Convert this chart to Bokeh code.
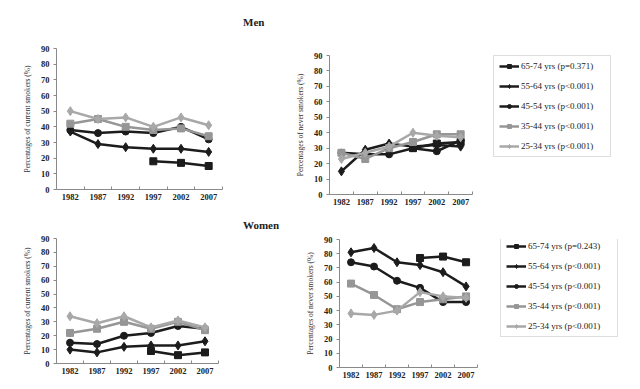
from bokeh.plotting import figure
from bokeh.models import Div, Legend, LegendItem, FixedTicker, Range1d
from bokeh.layouts import column, row
from bokeh.embed import file_html
from bokeh.resources import INLINE

# ---------------- data ----------------
years = [1982, 1987, 1992, 1997, 2002, 2007]
years_6574 = [1997, 2002, 2007]
y_ticks = [0, 10, 20, 30, 40, 50, 60, 70, 80, 90]

groups = ["65-74 yrs", "55-64 yrs", "45-54 yrs", "35-44 yrs", "25-34 yrs"]
men_pvalues = ["(p=0.371)", "(p<0.001)", "(p<0.001)", "(p<0.001)", "(p<0.001)"]
women_pvalues = ["(p=0.243)", "(p<0.001)", "(p<0.001)", "(p<0.001)", "(p<0.001)"]

men_current_6574 = [18, 17, 15]
men_current_5564 = [37, 29, 27, 26, 26, 24]
men_current_4554 = [38, 36, 37, 36, 40, 32]
men_current_3544 = [42, 45, 40, 38, 39, 34]
men_current_2534 = [50, 45, 46, 40, 46, 41]

men_never_6574 = [30, 33, 34]
men_never_5564 = [15, 29, 33, 31, 32, 31]
men_never_4554 = [27, 26, 26, 30, 28, 35]
men_never_3544 = [27, 23, 30, 34, 39, 39]
men_never_2534 = [23, 27, 31, 40, 38, 37]

women_current_6574 = [9, 6, 8]
women_current_5564 = [10, 8, 12, 13, 13, 16]
women_current_4554 = [15, 14, 20, 22, 27, 25]
women_current_3544 = [22, 25, 30, 25, 30, 24]
women_current_2534 = [34, 29, 34, 26, 31, 26]

women_never_6574 = [77, 78, 74]
women_never_5564 = [81, 84, 74, 72, 67, 57]
women_never_4554 = [74, 71, 61, 56, 46, 46]
women_never_3544 = [59, 51, 41, 46, 48, 50]
women_never_2534 = [38, 37, 40, 53, 50, 49]

# ---------------- styles ----------------
FONT = "Liberation Serif"
BLACK = "#1c1c1c"
GREY_SQ = "#969696"
GREY_DI = "#a8a8a8"
styles = [
    (BLACK, "square", 7),
    (BLACK, "diamond", 9),
    (BLACK, "circle", 7),
    (GREY_SQ, "square", 7),
    (GREY_DI, "diamond", 9),
]
X_START = 1979.5
X_END = 2009.5


def panel(width, height, borders, margin_left, ylabel, series,
          data_px=None, labels=None, legend_xy=None):
    l, r, t, b = borders
    frame_w = width - l - r
    x_end = X_END
    if data_px is not None:
        # frame is wider than the data area (room for the legend)
        x_end = X_START + frame_w * (X_END - X_START) / data_px
    p = figure(width=width, height=height,
               x_range=Range1d(X_START, x_end), y_range=Range1d(0, 90),
               output_backend="svg", toolbar_location=None,
               min_border_left=l, min_border_right=r,
               min_border_top=t, min_border_bottom=b,
               margin=(0, 0, 0, margin_left))
    p.frame_align = False
    p.outline_line_color = None
    p.grid.visible = False
    p.background_fill_color = "white"
    p.border_fill_color = "white"

    bounds = [yr - 2.5 for yr in years] + [years[-1] + 2.5]
    p.xaxis.ticker = FixedTicker(ticks=years, minor_ticks=bounds)
    p.xaxis.bounds = (X_START, X_END)
    p.xaxis.major_tick_in = 0
    p.xaxis.major_tick_out = 0
    p.xaxis.minor_tick_in = 3
    p.xaxis.minor_tick_out = 0
    p.xaxis.major_label_standoff = 4
    p.yaxis.ticker = FixedTicker(ticks=y_ticks, minor_ticks=[])
    p.yaxis.major_tick_in = 0
    p.yaxis.major_tick_out = 3
    p.yaxis.major_label_standoff = 4
    p.yaxis.axis_label = ylabel
    p.yaxis.axis_label_standoff = 6
    p.yaxis.axis_label_text_font = FONT
    p.yaxis.axis_label_text_font_size = "7.5px"
    p.yaxis.axis_label_text_font_style = "normal"
    p.yaxis.axis_label_text_color = "#333333"
    for ax in (p.xaxis, p.yaxis):
        ax.axis_line_color = "#8a8a8a"
        ax.major_tick_line_color = "#8a8a8a"
        ax.minor_tick_line_color = "#8a8a8a"
        ax.major_label_text_font = FONT
        ax.major_label_text_font_size = "8.5px"
        ax.major_label_text_font_style = "bold"
        ax.major_label_text_color = "#222222"

    items = []
    for i, vals in enumerate(series):
        color, marker, size = styles[i]
        xs = years_6574 if len(vals) == 3 else years
        lr = p.line(xs, vals, line_color=color, line_width=2.5)
        sr = p.scatter(xs, vals, marker=marker, size=size,
                       fill_color=color, line_color=color)
        if labels:
            items.append(LegendItem(label=labels[i], renderers=[lr, sr]))

    if labels:
        leg = Legend(items=items, location=legend_xy,
                     orientation="vertical",
                     label_text_font=FONT, label_text_font_size="9px",
                     label_text_color="#222222",
                     glyph_width=20, glyph_height=10, label_height=10,
                     label_width=84, label_standoff=2,
                     spacing=10, padding=5, margin=0,
                     border_line_color="#bdbdbd", border_line_width=1,
                     background_fill_color="white", background_fill_alpha=1.0)
        p.add_layout(leg, "center")
    return p


men_labels = [g + " " + pv for g, pv in zip(groups, men_pvalues)]
women_labels = [g + " " + pv for g, pv in zip(groups, women_pvalues)]

# page x: TL fig 19..292, TR 292..632 ; BL 19..302, BR 302..632
p_tl = panel(273, 178, (33, 70, 16, 21), 19, "Percentages of current smokers (%)",
             [men_current_6574, men_current_5564, men_current_4554,
              men_current_3544, men_current_2534])
p_tr = panel(340, 178, (33, 7, 23, 16), 0, "Percentages of never smokers (%)",
             [men_never_6574, men_never_5564, men_never_4554,
              men_never_3544, men_never_2534],
             data_px=145, labels=men_labels, legend_xy=(164, 37))
p_bl = panel(283, 153, (33, 84, 6, 22), 19, "Percentages of current smokers (%)",
             [women_current_6574, women_current_5564, women_current_4554,
              women_current_3544, women_current_2534])
p_br = panel(330, 153, (33, 7, 7, 18), 0, "Percentages of never smokers (%)",
             [women_never_6574, women_never_5564, women_never_4554,
              women_never_3544, women_never_2534],
             data_px=140, labels=women_labels, legend_xy=(161, 30))

title_style = ("margin:0; padding:{pt}px 0 0 243px; font-family:'Liberation Serif';"
               " font-weight:bold; font-size:11px; line-height:14px; color:#222;")
men_div = Div(text='<div style="%s">Men</div>' % title_style.format(pt=15),
              width=632, height=32, margin=0)
women_div = Div(text='<div style="%s">Women</div>' % title_style.format(pt=8),
                width=632, height=22, margin=0)

layout = column(men_div, row(p_tl, p_tr, spacing=0), women_div,
                row(p_bl, p_br, spacing=0), spacing=0)

open("out.html", "w").write(file_html(layout, INLINE))
